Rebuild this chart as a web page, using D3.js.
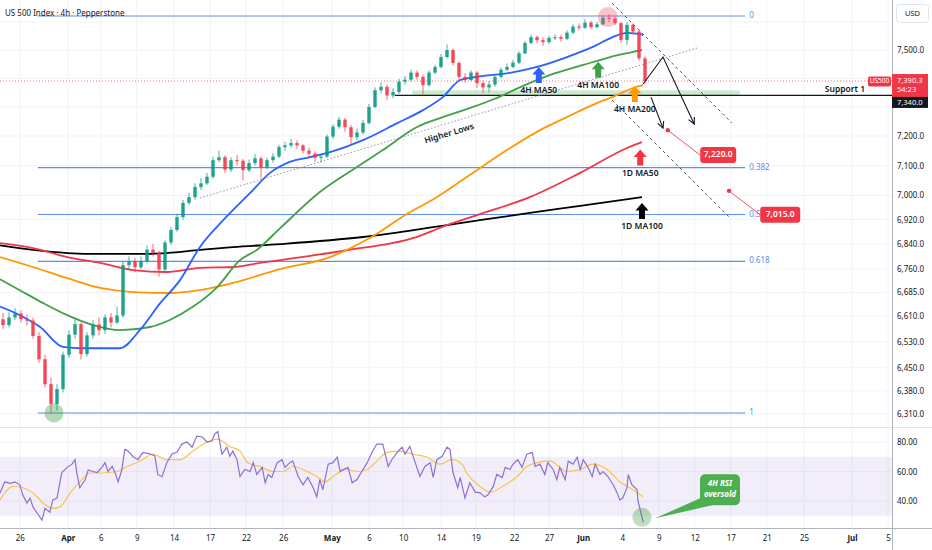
<!DOCTYPE html>
<html>
<head>
<meta charset="utf-8">
<script src="https://cdn.jsdelivr.net/npm/d3@7"></script>
<style>
  body { margin: 0; background: #ffffff; }
  svg text { font-family: "Noto Sans", Roboto, sans-serif; }
</style>
</head>
<body>
<svg id="chart" width="932" height="550"></svg>
<script>
// ---- price data (one candle per half trading day) ----
const firstOpen = 6600;
const closes = [
  6582, 6606, 6618, 6600, 6596, 6548, 6476, 6400, 6340, 6385,
  6490, 6552, 6585, 6492, 6550, 6584, 6566, 6606, 6590, 6612,
  6772, 6784, 6765, 6785, 6822, 6812, 6758, 6845, 6886, 6928,
  6975, 6994, 7028, 7040, 7062, 7118, 7128, 7086, 7118, 7116,
  7084, 7108, 7124, 7094, 7118, 7130, 7162, 7168, 7176, 7168,
  7150, 7140, 7126, 7130, 7198, 7232, 7256, 7230, 7196, 7212,
  7245, 7300, 7358, 7370, 7340, 7352, 7388, 7395, 7420, 7405,
  7376, 7420, 7440, 7475, 7500, 7454, 7405, 7394, 7420, 7383,
  7368, 7378, 7405, 7430, 7440, 7455, 7488, 7525, 7546, 7535,
  7528, 7543, 7546, 7540, 7562, 7584, 7580, 7598, 7582, 7592,
  7615, 7612, 7596, 7536, 7590, 7566, 7470, 7390.3
];
const highs = [
  6620, 6622, 6635, 6628, 6615, 6605, 6560, 6490, 6420, 6400,
  6500, 6565, 6600, 6590, 6560, 6598, 6605, 6615, 6620, 6640,
  6785, 6800, 6795, 6800, 6835, 6840, 6818, 6852, 6895, 6940,
  6985, 7008, 7040, 7058, 7075, 7130, 7150, 7135, 7128, 7135,
  7122, 7120, 7138, 7130, 7126, 7142, 7170, 7180, 7190, 7185,
  7172, 7160, 7148, 7140, 7205, 7240, 7265, 7262, 7238, 7225,
  7255, 7310, 7368, 7385, 7378, 7365, 7398, 7408, 7430, 7428,
  7412, 7428, 7448, 7485, 7520, 7505, 7460, 7418, 7428, 7425,
  7392, 7390, 7412, 7438, 7452, 7465, 7495, 7532, 7555, 7552,
  7545, 7550, 7556, 7555, 7570, 7592, 7595, 7610, 7605, 7600,
  7625, 7628, 7620, 7600, 7600, 7595, 7572, 7478
];
const lows = [
  6570, 6575, 6598, 6590, 6580, 6540, 6465, 6390, 6312, 6320,
  6375, 6480, 6540, 6475, 6485, 6540, 6550, 6555, 6575, 6585,
  6605, 6760, 6750, 6758, 6778, 6800, 6735, 6752, 6838, 6880,
  6920, 6968, 6985, 7018, 7035, 7055, 7110, 7075, 7078, 7100,
  7050, 7078, 7100, 7055, 7088, 7110, 7125, 7150, 7160, 7155,
  7140, 7125, 7112, 7110, 7125, 7190, 7225, 7215, 7170, 7185,
  7205, 7240, 7295, 7348, 7325, 7330, 7345, 7378, 7388, 7395,
  7345, 7370, 7415, 7435, 7470, 7445, 7395, 7385, 7390, 7365,
  7348, 7350, 7370, 7400, 7425, 7435, 7450, 7485, 7520, 7525,
  7515, 7522, 7535, 7530, 7535, 7555, 7570, 7575, 7575, 7578,
  7588, 7600, 7590, 7525, 7518, 7555, 7462, 7382
];

// ---- moving averages [slot, price] ----
const ma50_4h = [[-0.5,6640],[2.8,6613],[6.2,6576],[10,6514],[13.3,6510],[19.5,6510],[22.8,6566],[26.2,6651],[29.5,6724],[32.8,6830],[36.7,6918],[41.2,7008],[44.5,7075],[47.8,7112],[51.2,7128],[54.5,7145],[60,7186],[65.7,7244],[70,7289],[73.3,7334],[76.2,7394],[79,7405],[84.5,7419],[89,7440],[94,7475],[98.3,7511],[101.7,7547],[104,7561],[106.7,7554]];
const ma100_4h = [[-0.5,6727],[2.8,6692],[6.7,6651],[10.7,6613],[15,6582],[19.5,6566],[24.5,6576],[27.8,6598],[31.7,6640],[35.7,6702],[39.5,6788],[42.3,6821],[46.2,6892],[52.8,7011],[59,7095],[63.3,7152],[69,7231],[73.3,7265],[77.8,7296],[82.3,7331],[86.2,7369],[91.2,7412],[96.7,7447],[101.2,7475],[105,7493],[106.5,7500]];
const ma200_4h = [[-0.5,6798],[5,6766],[10.7,6730],[16.2,6699],[21.7,6686],[28.3,6683],[32.8,6692],[38.3,6715],[46.2,6759],[54.5,6798],[61.7,6866],[67.3,6938],[72.3,6994],[77.3,7061],[84,7152],[89.5,7220],[94,7265],[98.3,7307],[102.3,7341],[105,7366],[106.7,7376]];
const ma50_1d = [[-0.5,6843],[5,6827],[10.7,6798],[16.2,6779],[21.7,6756],[27.3,6750],[32.8,6763],[38.3,6766],[42.8,6779],[46.2,6788],[57.3,6820],[68.3,6859],[74,6902],[79.5,6938],[87.8,6994],[96.2,7075],[104,7159],[106.5,7179]];
const ma100_1d = [[-0.5,6836],[5,6821],[10.7,6811],[16.2,6808],[21.7,6808],[27.3,6811],[32.8,6821],[38.3,6830],[46.2,6840],[60,6863],[74,6902],[87.8,6942],[96.2,6965],[106.5,6994]];

// ---- RSI (14) and its moving average [slot, value] ----
const rsi = [[-0.5,45.5],[0.3,53],[1.2,52],[2,53],[2.8,51],[3.3,44],[4,38.6],[4.5,42],[5,36],[5.7,31.7],[6.5,27],[7,35],[7.8,32.4],[8.3,40.7],[9,42],[9.8,59.3],[10.7,62.8],[11.5,65],[12,68],[12.3,59],[12.8,49],[13.7,54.5],[14.2,61],[15,60],[15.7,59.3],[16.5,62.8],[17,66],[17.5,60],[18.2,63.4],[18.7,59],[19.2,53],[19.8,61],[20.3,75],[20.8,74],[21.7,70],[22.5,68],[23.3,73],[24.5,72],[25.3,70.6],[25.8,58],[26.5,56.5],[27.3,66],[28.2,72],[29,73],[29.8,78.6],[30.7,80],[31.5,76.5],[32.3,84],[33.2,83.4],[34,80],[34.8,80.7],[35.3,85.5],[35.8,87],[36.5,71.7],[37.3,76.5],[37.8,70.3],[38.3,73.8],[39,68],[39.5,56.6],[40.3,61.4],[41.2,60],[41.7,66],[42.3,58],[43.2,62.8],[43.7,52.4],[44.2,58],[44.8,55.9],[45.7,66],[46.5,68],[47,62.8],[47.8,66],[48.3,67],[49.2,56.6],[50,51],[50.8,56],[51.7,49],[52.3,42.8],[52.8,54.5],[53.3,47.6],[54.2,65],[55,66],[55.7,69.7],[56.2,60],[56.7,61.4],[57.5,62.8],[58.2,52.4],[59,54.5],[59.8,60],[60.7,66],[61.5,73],[62.3,78.6],[63.3,78.6],[64.2,63.4],[64.8,68],[65.7,73],[66.5,76.5],[67,71.7],[67.8,77],[68.7,66],[69.5,56.6],[70.3,63.4],[71.2,66],[71.7,56],[72.3,68],[73.2,70.3],[74,76.5],[74.5,75],[75,59.3],[75.8,49],[76.2,56],[77,42],[77.8,52.4],[78.7,46],[79.5,45.5],[80.3,42.8],[80.8,44],[81.7,49.7],[82.3,58],[83.2,55.9],[83.7,62.8],[84.5,61.4],[85,65],[85.8,68],[86.5,62.8],[87.3,71.7],[88.2,73],[88.7,63.4],[89.5,65],[90.3,58],[90.8,66],[91.7,61.4],[92.3,54.5],[92.8,62.8],[93.7,54.5],[94.2,67],[95,65],[95.7,69.7],[96.2,61.4],[96.7,68],[97.5,62.8],[98.2,56.6],[98.7,65],[99.5,58],[100,60],[100.8,56.6],[101.7,51],[102.3,46],[102.8,40.7],[103.3,42],[104,49],[104.2,58],[104.8,51],[105.7,47.6],[105.8,40.7],[106.7,25.5]];
const rsiMa = [[-0.5,40.7],[1.7,50],[3.3,49],[5,45.5],[6.7,38.6],[8.3,35],[9.5,36],[11.2,45.5],[12.8,53],[14.5,59],[16.7,59],[19,60],[20.7,63.4],[22.8,67],[25,71.7],[27.3,68],[29.5,68],[31.7,74],[34,80],[35.8,82],[37.8,77],[39.5,73.8],[40.8,66],[42.8,63.4],[45,60],[46.7,60],[48.3,63.4],[50.7,60],[52.3,56.6],[53.7,53],[55,56.6],[57.3,61.4],[59,60],[60.7,61.4],[62.3,67],[64,73],[66.2,73.8],[68.3,71.7],[70.7,69.7],[72.8,65],[74.8,68],[76.5,65],[77.3,59],[79.5,50],[81.2,46],[83.3,50],[85.7,56.6],[87.3,63.4],[89,66],[91.2,67],[94,60],[96.2,61.4],[98.3,65],[100.7,61.4],[102.8,53],[105,47.6],[106.7,42.8]];

// ---- axis ticks ----
const xTickSlots = [2.8, 10.8, 16.3, 22.3, 28.5, 34.5, 40.5, 46.7, 54.8, 61, 66.7, 73, 78.8, 85.2, 91, 96.7, 103.2, 109.3, 115.3, 121.3, 127.3, 133.5, 141.5, 147.5];
const xTickLabels = ["26", "Apr", "6", "9", "14", "17", "22", "26", "May", "6", "10", "14", "19", "22", "27", "Jun", "4", "9", "12", "17", "21", "25", "Jul", "5"];
const monthLabels = ["Apr", "May", "Jun", "Jul"];
const priceGridTicks = [7600, 7500, 7400, 7300, 7200, 7100, 7000, 6920, 6840, 6760, 6685, 6610, 6530, 6450, 6380, 6310];
const priceLabelTicks = [7500, 7200, 7100, 7000, 6920, 6840, 6760, 6685, 6610, 6530, 6450, 6380, 6310];
const rsiTicks = [80, 60, 40];

// ---- drawings ----
const fibLevels = [0, 0.382, 0.5, 0.618, 1];
const fibTop = 7622, fibBottom = 6313, fibStartSlot = 5.8, fibEndSlot = 123.7;
const lastPrice = 7390.3, supportPrice = 7340, supportStartSlot = 65.3;
const supportZone = [68.2, 122.8, 7340, 7358];
const higherLows = [[32.8, 6991], [115.7, 7507]];
const channelUpper = [[101.5, 7669], [121.5, 7244]];
const channelLower = [[101.5, 7324], [121.2, 6925]];
const projMain = [[106.7, 7380], [110, 7475], [115.2, 7241]];
const projAlt = [[108, 7334], [110, 7227]];
const targets = [
  { slot: 110.8, price: 7220, labelSlot: 116.2, labelPrice: 7135, text: "7,220.0", w: 36 },
  { slot: 121, price: 7015, labelSlot: 126.2, labelPrice: 6936, text: "7,015.0", w: 40 }
];
const maArrows = [
  { slot: 89.3, price: 7440, color: "#2962ff", label: "4H MA50" },
  { slot: 99.2, price: 7458, color: "#43a047", label: "4H MA100" },
  { slot: 105.3, price: 7373, color: "#ff9800", label: "4H MA200" },
  { slot: 106.2, price: 7154, color: "#f23645", label: "1D MA50" },
  { slot: 106.5, price: 6975, color: "#000000", label: "1D MA100" }
];
const topCircle = [100.8, 7618];
const lowCircle = [8.5, 6313];
const rsiCircle = [106.5, 29];
const rsiCallout = { slot: 119.5, value: 47.6, tipSlot: 108.7, tipValue: 28.3 };

// ---- layout ----
const plotW = 892, mainBottom = 427, rsiTop = 428, axisY = 528;
const svg = d3.select("#chart");

const x = d3.scaleLinear().domain([0, 148]).range([3, 891]);
const y = d3.scaleLog().domain([6310, 7500]).range([414, 50]);
const yr = d3.scaleLinear().domain([40, 80]).range([501, 442]);

const defs = svg.append("defs");
defs.append("clipPath").attr("id", "clipMain")
  .append("rect").attr("x", 0).attr("y", 0).attr("width", plotW).attr("height", mainBottom);
defs.append("clipPath").attr("id", "clipRsi")
  .append("rect").attr("x", 0).attr("y", rsiTop).attr("width", plotW).attr("height", axisY - rsiTop);
defs.append("marker")
  .attr("id", "openArrow")
  .attr("viewBox", "0 0 10 10")
  .attr("refX", 9).attr("refY", 5)
  .attr("markerWidth", 8).attr("markerHeight", 8)
  .attr("markerUnits", "userSpaceOnUse")
  .attr("orient", "auto")
  .append("path")
  .attr("d", "M1,1 L9,5 L1,9")
  .attr("fill", "none").attr("stroke", "#131722").attr("stroke-width", 1.4);

// grid
const grid = svg.append("g");
grid.selectAll("line.vx").data(xTickSlots).enter().append("line")
  .attr("x1", (d) => x(d)).attr("x2", (d) => x(d))
  .attr("y1", 0).attr("y2", axisY)
  .attr("stroke", "#f0f3fa");
grid.selectAll("line.hy").data(priceGridTicks).enter().append("line")
  .attr("x1", 0).attr("x2", plotW)
  .attr("y1", (d) => y(d)).attr("y2", (d) => y(d))
  .attr("stroke", "#f0f3fa");
grid.selectAll("line.hr").data(rsiTicks).enter().append("line")
  .attr("x1", 0).attr("x2", plotW)
  .attr("y1", (d) => yr(d)).attr("y2", (d) => yr(d))
  .attr("stroke", "#f0f3fa");

const main = svg.append("g").attr("clip-path", "url(#clipMain)");

// fibonacci levels (log scale)
const fibPrice = (r) => Math.exp(Math.log(fibTop) - r * (Math.log(fibTop) - Math.log(fibBottom)));
main.selectAll("line.fib").data(fibLevels).enter().append("line")
  .attr("x1", x(fibStartSlot)).attr("x2", x(fibEndSlot))
  .attr("y1", (d) => y(fibPrice(d))).attr("y2", (d) => y(fibPrice(d)))
  .attr("stroke", "#5b8def").attr("stroke-width", 1.2);
main.selectAll("text.fib").data(fibLevels).enter().append("text")
  .attr("x", x(fibEndSlot) + 4).attr("y", (d) => y(fibPrice(d)))
  .attr("dominant-baseline", "middle")
  .attr("font-size", 8).attr("fill", "#5b8def")
  .text((d) => String(d));

// support zone and line
main.append("rect")
  .attr("x", x(supportZone[0])).attr("width", x(supportZone[1]) - x(supportZone[0]))
  .attr("y", y(supportZone[3])).attr("height", y(supportZone[2]) - y(supportZone[3]))
  .attr("fill", "rgba(76,175,80,0.28)");
main.append("line")
  .attr("x1", x(supportStartSlot)).attr("x2", plotW)
  .attr("y1", y(supportPrice)).attr("y2", y(supportPrice))
  .attr("stroke", "#131722").attr("stroke-width", 1.3);
main.append("text")
  .attr("x", 865).attr("y", y(supportPrice) - 3)
  .attr("text-anchor", "end").attr("font-size", 8.5).attr("font-weight", 600)
  .attr("fill", "#131722").text("Support 1");

// current price line
main.append("line")
  .attr("x1", 0).attr("x2", plotW)
  .attr("y1", y(lastPrice)).attr("y2", y(lastPrice))
  .attr("stroke", "#f23645").attr("stroke-width", 1).attr("stroke-dasharray", "1 2").attr("opacity", 0.7);

// higher lows trendline
const lineXY = d3.line().x((d) => x(d[0])).y((d) => y(d[1]));
main.append("path").attr("d", lineXY(higherLows))
  .attr("fill", "none").attr("stroke", "#9598a1").attr("stroke-width", 1).attr("stroke-dasharray", "1.5 2");
const hlAngle = Math.atan2(y(higherLows[1][1]) - y(higherLows[0][1]), x(higherLows[1][0]) - x(higherLows[0][0])) * 180 / Math.PI;
main.append("text")
  .attr("transform", `translate(${x(74.5)},${y(7200)}) rotate(${hlAngle})`)
  .attr("text-anchor", "middle").attr("font-size", 8.5).attr("font-weight", 600)
  .attr("fill", "#131722").text("Higher Lows");

// moving averages
const maLine = d3.line().x((d) => x(d[0])).y((d) => y(d[1])).curve(d3.curveMonotoneX);
[
  [ma100_1d, "#000000"],
  [ma50_1d, "#f23645"],
  [ma200_4h, "#ff9800"],
  [ma100_4h, "#43a047"],
  [ma50_4h, "#2962ff"]
].forEach(([series, color]) => {
  main.append("path").datum(series).attr("d", maLine)
    .attr("fill", "none").attr("stroke", color).attr("stroke-width", 1.8);
});

// candles
const candles = closes.map((c, i) => ({
  i, o: i === 0 ? firstOpen : closes[i - 1], c, h: highs[i], l: lows[i]
}));
const cg = main.append("g");
cg.selectAll("line.wick").data(candles).enter().append("line")
  .attr("x1", (d) => x(d.i)).attr("x2", (d) => x(d.i))
  .attr("y1", (d) => y(d.h)).attr("y2", (d) => y(d.l))
  .attr("stroke", (d) => (d.c >= d.o ? "#089981" : "#f23645"))
  .attr("stroke-width", 1).attr("opacity", 0.75);
cg.selectAll("rect.body").data(candles).enter().append("rect")
  .attr("x", (d) => x(d.i) - 1.75)
  .attr("width", 3.5)
  .attr("y", (d) => y(Math.max(d.o, d.c)))
  .attr("height", (d) => Math.max(1, Math.abs(y(d.o) - y(d.c))))
  .attr("fill", (d) => (d.c >= d.o ? "#089981" : "#f23645"))
  .attr("opacity", 0.85);

// circles
main.append("circle").attr("cx", x(topCircle[0])).attr("cy", y(topCircle[1])).attr("r", 10)
  .attr("fill", "rgba(239,83,110,0.35)");
main.append("circle").attr("cx", x(lowCircle[0])).attr("cy", y(lowCircle[1])).attr("r", 9.5)
  .attr("fill", "rgba(67,160,71,0.4)");

// channel lines
[channelUpper, channelLower].forEach((seg) => {
  main.append("path").attr("d", lineXY(seg))
    .attr("fill", "none").attr("stroke", "#50535e").attr("stroke-width", 1).attr("stroke-dasharray", "3 3");
});

// projection arrows
main.append("path").attr("d", lineXY(projMain))
  .attr("fill", "none").attr("stroke", "#131722").attr("stroke-width", 1.1)
  .attr("marker-end", "url(#openArrow)");
main.append("path").attr("d", lineXY(projAlt))
  .attr("fill", "none").attr("stroke", "#131722").attr("stroke-width", 1.1)
  .attr("marker-end", "url(#openArrow)");

// MA block arrows with labels
function blockArrow(g, cx, tipY, color) {
  const p = d3.path();
  p.moveTo(cx, tipY);
  p.lineTo(cx + 6.5, tipY + 7.5);
  p.lineTo(cx + 3, tipY + 7.5);
  p.lineTo(cx + 3, tipY + 16);
  p.lineTo(cx - 3, tipY + 16);
  p.lineTo(cx - 3, tipY + 7.5);
  p.lineTo(cx - 6.5, tipY + 7.5);
  p.closePath();
  g.append("path").attr("d", p.toString()).attr("fill", color);
}
maArrows.forEach((a) => {
  const cx = x(a.slot), ty = y(a.price);
  blockArrow(main, cx, ty, a.color);
  main.append("text").attr("x", cx).attr("y", ty + 24)
    .attr("text-anchor", "middle").attr("dominant-baseline", "middle")
    .attr("font-size", 8.5).attr("font-weight", 600).attr("fill", "#131722")
    .text(a.label);
});

// target labels
targets.forEach((t) => {
  const dx = x(t.slot), dy = y(t.price);
  const lx = x(t.labelSlot), ly = y(t.labelPrice);
  main.append("line").attr("x1", dx).attr("y1", dy).attr("x2", lx).attr("y2", ly)
    .attr("stroke", "#f7525f").attr("stroke-width", 1);
  main.append("circle").attr("cx", dx).attr("cy", dy).attr("r", 2.2).attr("fill", "#f23645");
  main.append("rect").attr("x", lx).attr("y", ly - 8).attr("width", t.w).attr("height", 16).attr("rx", 3)
    .attr("fill", "#f23645");
  main.append("text").attr("x", lx + t.w / 2).attr("y", ly)
    .attr("text-anchor", "middle").attr("dominant-baseline", "middle")
    .attr("font-size", 8.5).attr("font-weight", 600).attr("fill", "#ffffff").text(t.text);
});

// ---- RSI pane ----
const rsiG = svg.append("g").attr("clip-path", "url(#clipRsi)");
rsiG.append("rect").attr("x", 0).attr("width", plotW)
  .attr("y", yr(70)).attr("height", yr(30) - yr(70))
  .attr("fill", "rgba(126,87,194,0.1)");
const rsiLine = d3.line().x((d) => x(d[0])).y((d) => yr(d[1]));
rsiG.append("path").datum(rsiMa).attr("d", rsiLine.curve(d3.curveMonotoneX))
  .attr("fill", "none").attr("stroke", "#f7c548").attr("stroke-width", 1.2);
rsiG.append("path").datum(rsi).attr("d", d3.line().x((d) => x(d[0])).y((d) => yr(d[1])))
  .attr("fill", "none").attr("stroke", "#8e6fd0").attr("stroke-width", 1.2);
rsiG.append("circle").attr("cx", x(rsiCircle[0])).attr("cy", yr(rsiCircle[1])).attr("r", 9.5)
  .attr("fill", "rgba(67,160,71,0.35)");

const cbx = x(rsiCallout.slot), cby = yr(rsiCallout.value);
const bw = 40, bh = 31;
rsiG.append("path")
  .attr("d", `M${cbx - bw / 2},${cby + bh / 2 - 7} L${cbx - bw / 2 + 12},${cby + bh / 2} L${x(rsiCallout.tipSlot)},${yr(rsiCallout.tipValue)} Z`)
  .attr("fill", "#4caf50");
rsiG.append("rect").attr("x", cbx - bw / 2).attr("y", cby - bh / 2).attr("width", bw).attr("height", bh)
  .attr("rx", 5).attr("fill", "#4caf50");
rsiG.append("text").attr("x", cbx).attr("y", cby - 6)
  .attr("text-anchor", "middle").attr("dominant-baseline", "middle")
  .attr("font-size", 8).attr("font-weight", 700).attr("font-style", "italic").attr("fill", "#ffffff")
  .text("4H RSI");
rsiG.append("text").attr("x", cbx).attr("y", cby + 5)
  .attr("text-anchor", "middle").attr("dominant-baseline", "middle")
  .attr("font-size", 8).attr("font-weight", 700).attr("font-style", "italic").attr("fill", "#ffffff")
  .text("oversold");

// ---- frame lines ----
svg.append("line").attr("x1", 0).attr("x2", 932).attr("y1", mainBottom + 0.5).attr("y2", mainBottom + 0.5)
  .attr("stroke", "#e0e3eb");
svg.append("line").attr("x1", 0).attr("x2", 932).attr("y1", axisY + 0.5).attr("y2", axisY + 0.5)
  .attr("stroke", "#b2b5be");
svg.append("line").attr("x1", plotW + 0.5).attr("x2", plotW + 0.5).attr("y1", 0).attr("y2", 550)
  .attr("stroke", "#b2b5be");

// ---- axes ----
const yAxis = svg.append("g")
  .attr("transform", `translate(${plotW},0)`)
  .call(d3.axisRight(y).tickValues(priceLabelTicks).tickFormat(d3.format(",.1f")).tickSize(0).tickPadding(5));
yAxis.select(".domain").remove();
yAxis.selectAll("text").attr("font-size", 8).attr("fill", "#131722").attr("font-family", '"Noto Sans", Roboto, sans-serif');

const rAxis = svg.append("g")
  .attr("transform", `translate(${plotW},0)`)
  .call(d3.axisRight(yr).tickValues(rsiTicks).tickFormat(d3.format(".2f")).tickSize(0).tickPadding(5));
rAxis.select(".domain").remove();
rAxis.selectAll("text").attr("font-size", 8).attr("fill", "#131722").attr("font-family", '"Noto Sans", Roboto, sans-serif');

const xAxis = svg.append("g")
  .attr("transform", `translate(0,${axisY})`)
  .call(d3.axisBottom(x).tickValues(xTickSlots).tickFormat((d, i) => xTickLabels[i]).tickSize(0).tickPadding(7));
xAxis.select(".domain").remove();
xAxis.selectAll("text")
  .attr("font-size", 8).attr("fill", "#131722").attr("font-family", '"Noto Sans", Roboto, sans-serif')
  .attr("font-weight", (d, i) => (monthLabels.includes(xTickLabels[i]) ? 700 : 400));

// ---- price tags on the right axis ----
const lpY = y(lastPrice);
svg.append("rect").attr("x", 868).attr("y", lpY - 4.5).attr("width", 23).attr("height", 10).attr("rx", 2)
  .attr("fill", "#f23645");
svg.append("text").attr("x", 879.5).attr("y", lpY + 0.5).attr("text-anchor", "middle").attr("dominant-baseline", "middle")
  .attr("font-size", 6.5).attr("fill", "#ffffff").text("US500");
svg.append("rect").attr("x", plotW).attr("y", lpY - 7).attr("width", 36).attr("height", 23).attr("fill", "#f23645");
svg.append("text").attr("x", 897).attr("y", lpY - 0.5).attr("dominant-baseline", "middle")
  .attr("font-size", 7.5).attr("fill", "#ffffff").text("7,390.3");
svg.append("text").attr("x", 897).attr("y", lpY + 9).attr("dominant-baseline", "middle")
  .attr("font-size", 7.5).attr("fill", "#ffffff").text("54:23");
const spY = y(supportPrice);
svg.append("rect").attr("x", plotW).attr("y", spY + 1.5).attr("width", 36).attr("height", 11).attr("fill", "#131722");
svg.append("text").attr("x", 897).attr("y", spY + 7.5).attr("dominant-baseline", "middle")
  .attr("font-size", 7.5).attr("fill", "#ffffff").text("7,340.0");

// currency box and title
svg.append("rect").attr("x", 896.5).attr("y", 4.5).attr("width", 32).attr("height", 18).attr("rx", 3)
  .attr("fill", "#ffffff").attr("stroke", "#e0e3eb");
svg.append("text").attr("x", 912.5).attr("y", 14).attr("text-anchor", "middle").attr("dominant-baseline", "middle")
  .attr("font-size", 7.5).attr("fill", "#131722").text("USD");
svg.append("text").attr("x", 5).attr("y", 14).attr("dominant-baseline", "middle")
  .attr("font-size", 8).attr("fill", "#131722").text("US 500 Index · 4h · Pepperstone");
</script>
</body>
</html>
